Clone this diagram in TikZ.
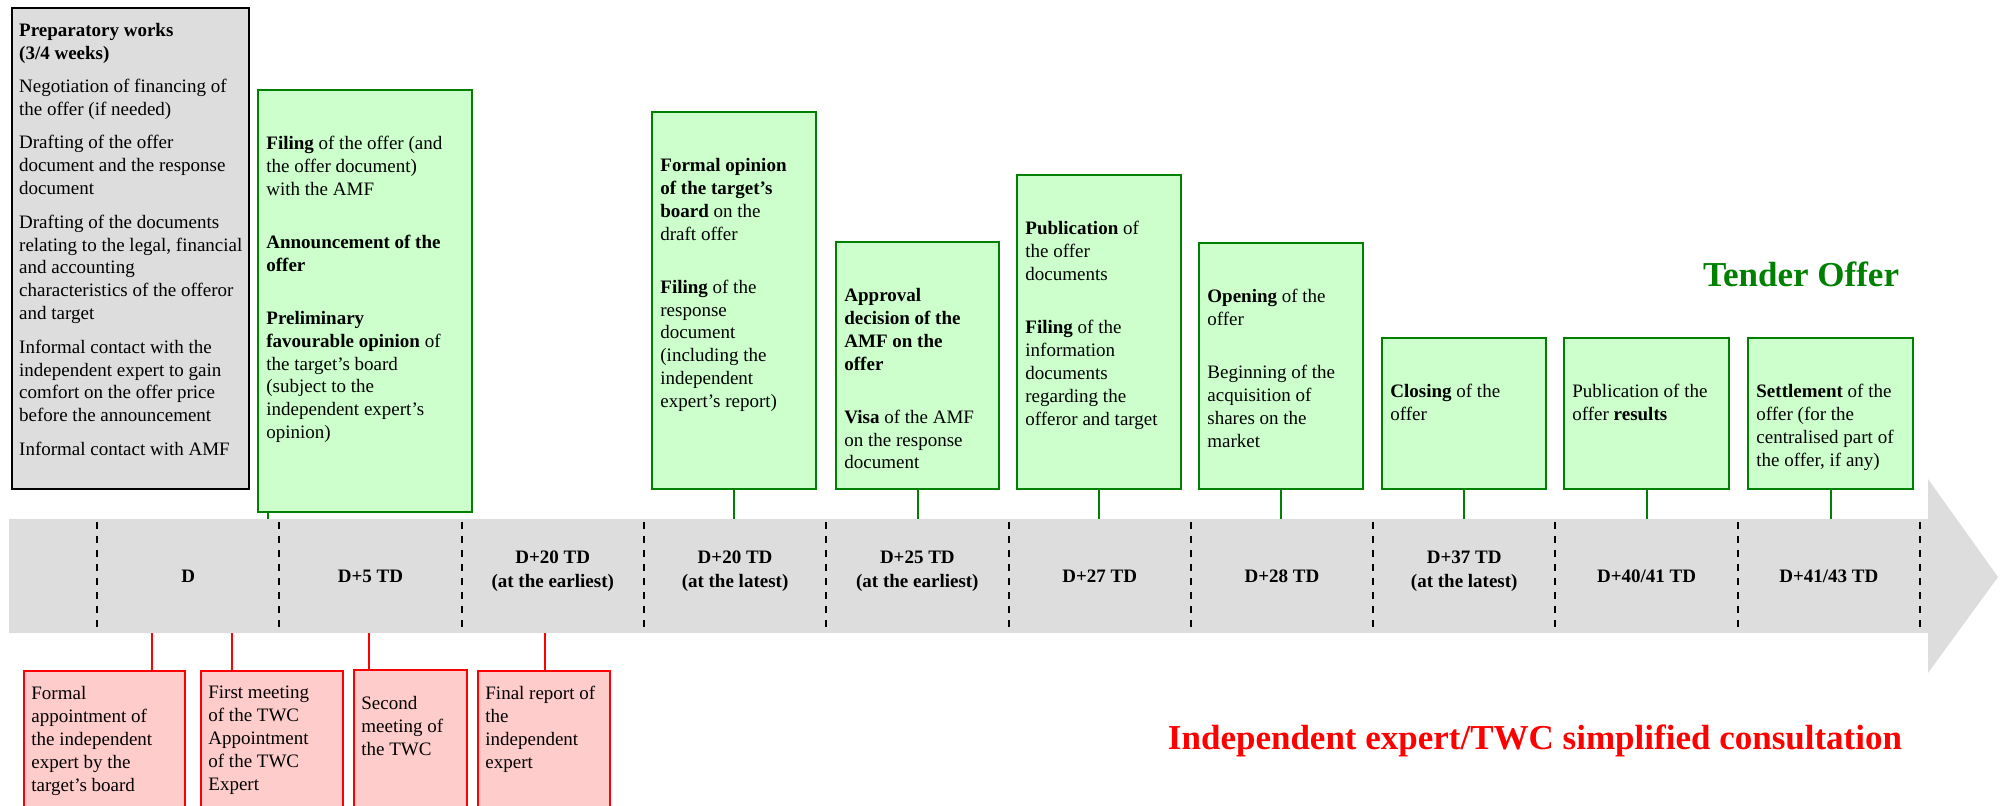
\documentclass[tikz,border=0pt]{standalone}
\usepackage{fontspec}
\setmainfont{Liberation Serif}
\usepackage{tikz}
\usetikzlibrary{fit}

\definecolor{bandgray}{HTML}{DDDDDD}
\definecolor{offergreen}{HTML}{008000}
\definecolor{offerfill}{HTML}{CCFFCC}
\definecolor{expertred}{HTML}{FF0000}
\definecolor{expertfill}{HTML}{FFCCCC}

\newcommand{\bodyfont}{\fontsize{9.5}{11.45}\selectfont}

\tikzset{
  prepbox/.style={draw=black, line width=1.2pt, fill=bandgray, inner sep=0pt},
  offerbox/.style={draw=offergreen, line width=1pt, fill=offerfill, inner sep=0pt},
  expertbox/.style={draw=expertred, line width=1pt, fill=expertfill, inner sep=0pt},
  boxtext/.style={anchor=north west, inner sep=0pt, align=left, font=\bodyfont},
  offerline/.style={draw=offergreen, line width=1pt},
  expertline/.style={draw=expertred, line width=1pt},
  daydiv/.style={line width=1pt, dash pattern=on 3.5pt off 3.5pt},
  daylabel/.style={align=center, inner sep=0pt, font=\fontsize{9.5}{12}\selectfont\bfseries},
}

\begin{document}
\begin{tikzpicture}[x=0.5pt, y=-0.5pt]
  \useasboundingbox (0,0) rectangle (2007,806);
  \clip (0,0) rectangle (2007,806);

  % time band with arrow head
  \fill[bandgray] (9,519) -- (1928,519) -- (1928,479) -- (1998,577)
    -- (1928,673) -- (1928,633) -- (9,633) -- cycle;
  \node[fit={(9,519)(1928,633)}, inner sep=0pt] (band) {};

  % day dividers
  \foreach \i in {0,...,10}
    \draw[daydiv] ({97+182.3*\i},522) -- ({97+182.3*\i},631);

  % day labels
  \foreach \lbl/\yy [count=\i from 0] in {D/576, D+5 TD/576,
      {D+20 TD\\(at the earliest)}/571, {D+20 TD\\(at the latest)}/571,
      {D+25 TD\\(at the earliest)}/571, D+27 TD/576, D+28 TD/576,
      {D+37 TD\\(at the latest)}/571, {D+40/41 TD}/576, {D+41/43 TD}/576}
    \node[daylabel] (day\i) at ({97+182.3*(\i+0.5)},\yy) {\lbl};

  % preparatory works
  \node[prepbox, fit={(12,8)(249,489)}] (prep) {};
  \node[boxtext] (preptext) at ([shift={(8,16)}]prep.north west)
    {\textbf{Preparatory works}\\\textbf{(3/4 weeks)}\\[5.25pt]
     Negotiation of financing of\\the offer (if needed)\\[5.25pt]
     Drafting of the offer\\document and the response\\document\\[5.25pt]
     Drafting of the documents\\relating to the legal, financial\\and accounting\\
     characteristics of the offeror\\and target\\[5.25pt]
     Informal contact with the\\independent expert to gain\\comfort on the offer price\\
     before the announcement\\[5.25pt]
     Informal contact with AMF};

  % tender offer steps
  \node[offerbox, fit={(258,90)(472,512)}] (filing) {};
  \node[boxtext] at ([shift={(9,47)}]filing.north west)
    {\textbf{Filing} of the offer (and\\the offer document)\\with the AMF\\[15pt]
     \textbf{Announcement of the}\\\textbf{offer}\\[15pt]
     \textbf{Preliminary}\\\textbf{favourable opinion} of\\the target's board\\
     (subject to the\\independent expert's\\opinion)};

  \node[offerbox, fit={(652,112)(816,489)}] (opinion) {};
  \node[boxtext] at ([shift={(9,47)}]opinion.north west)
    {\textbf{Formal opinion}\\\textbf{of the target's}\\\textbf{board} on the\\draft offer\\[15pt]
     \textbf{Filing} of the\\response\\document\\(including the\\independent\\expert's report)};

  \node[offerbox, fit={(836,242)(999,489)}] (approval) {};
  \node[boxtext] at ([shift={(9,47)}]approval.north west)
    {\textbf{Approval}\\\textbf{decision of the}\\\textbf{AMF on the}\\\textbf{offer}\\[15pt]
     \textbf{Visa} of the AMF\\on the response\\document};

  \node[offerbox, fit={(1017,175)(1181,489)}] (publication) {};
  \node[boxtext] at ([shift={(9,47)}]publication.north west)
    {\textbf{Publication} of\\the offer\\documents\\[15pt]
     \textbf{Filing} of the\\information\\documents\\regarding the\\offeror and target};

  \node[offerbox, fit={(1199,243)(1363,489)}] (opening) {};
  \node[boxtext] at ([shift={(9,47)}]opening.north west)
    {\textbf{Opening} of the\\offer\\[15pt]
     Beginning of the\\acquisition of\\shares on the\\market};

  \node[offerbox, fit={(1382,338)(1546,489)}] (closing) {};
  \node[boxtext] at ([shift={(9,47)}]closing.north west)
    {\textbf{Closing} of the\\offer};

  \node[offerbox, fit={(1564,338)(1729,489)}] (results) {};
  \node[boxtext] at ([shift={(9,47)}]results.north west)
    {Publication of the\\offer \textbf{results}};

  \node[offerbox, fit={(1748,338)(1913,489)}] (settlement) {};
  \node[boxtext] at ([shift={(9,47)}]settlement.north west)
    {\textbf{Settlement} of the\\offer (for the\\centralised part of\\the offer, if any)};

  % links down to the band
  \coordinate (fx) at (268,0);
  \draw[offerline] (filing.south -| fx) -- (band.north -| fx);
  \foreach \n in {opinion, approval, publication, opening, closing, results, settlement}
    \draw[offerline] (\n.south) -- (\n.south |- band.north);

  % independent expert / TWC steps
  \node[expertbox, fit={(24,671)(185,830)}] (appoint) {};
  \node[boxtext] at ([shift={(8,16)}]appoint.north west)
    {Formal\\appointment of\\the independent\\expert by the\\target's board};

  \node[expertbox, fit={(201,671)(343,830)}] (firstmeet) {};
  \node[boxtext] at ([shift={(8,16)}]firstmeet.north west)
    {First meeting\\of the TWC\\Appointment\\of the TWC\\Expert};

  \node[expertbox, fit={(354,670)(467,830)}] (secondmeet) {};
  \node[boxtext] at ([shift={(8,27)}]secondmeet.north west)
    {Second\\meeting of\\the TWC};

  \node[expertbox, fit={(478,671)(610,830)}] (report) {};
  \node[boxtext] at ([shift={(8,16)}]report.north west)
    {Final report of\\the\\independent\\expert};

  % links up to the band
  \coordinate (ax) at (152,0);
  \coordinate (bx) at (232,0);
  \coordinate (cx) at (369,0);
  \coordinate (dx) at (545,0);
  \draw[expertline] (band.south -| ax) -- (appoint.north -| ax);
  \draw[expertline] (band.south -| bx) -- (firstmeet.north -| bx);
  \draw[expertline] (band.south -| cx) -- (secondmeet.north -| cx);
  \draw[expertline] (band.south -| dx) -- (report.north -| dx);

  % titles
  \node[anchor=base, text=offergreen, font=\fontsize{17.5}{21}\selectfont\bfseries]
    (tender) at (1801,287) {Tender Offer};
  \node[anchor=base, text=expertred, font=\fontsize{17.5}{21}\selectfont\bfseries]
    (consult) at (1535,749) {Independent expert/TWC simplified consultation};
\end{tikzpicture}
\end{document}
